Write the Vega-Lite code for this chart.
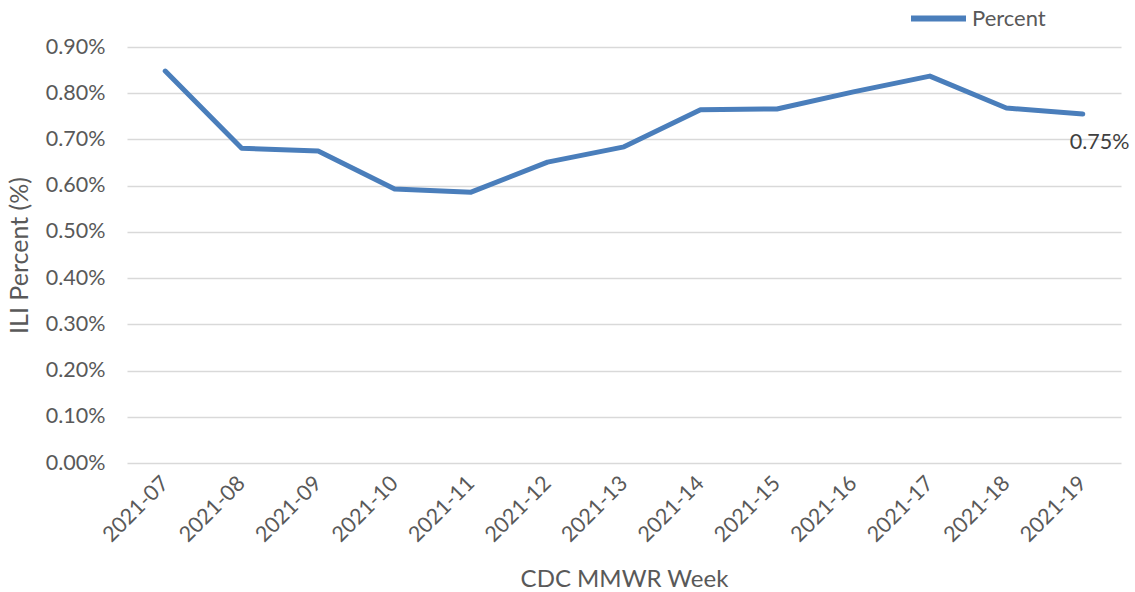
{
  "$schema": "https://vega.github.io/schema/vega-lite/v6.json",
  "width": 994,
  "height": 416,
  "autosize": {"type": "none"},
  "padding": {"left": 127, "top": 47, "right": 14, "bottom": 129},
  "background": "white",
  "config": {
    "view": {"stroke": null},
    "font": "Lato",
    "axis": {"labelColor": "#595959", "titleColor": "#595959", "labelFont": "Lato", "titleFont": "Lato", "labelFontSize": 21.5, "titleFontSize": 24, "titleFontWeight": "normal"},
    "legend": {"labelColor": "#595959", "labelFont": "Lato", "labelFontSize": 22}
  },
  "data": {
    "values": [
      {"week": "2021-07", "pct": 0.848, "series": "Percent"},
      {"week": "2021-08", "pct": 0.681, "series": "Percent"},
      {"week": "2021-09", "pct": 0.675, "series": "Percent"},
      {"week": "2021-10", "pct": 0.593, "series": "Percent"},
      {"week": "2021-11", "pct": 0.586, "series": "Percent"},
      {"week": "2021-12", "pct": 0.651, "series": "Percent"},
      {"week": "2021-13", "pct": 0.684, "series": "Percent"},
      {"week": "2021-14", "pct": 0.764, "series": "Percent"},
      {"week": "2021-15", "pct": 0.766, "series": "Percent"},
      {"week": "2021-16", "pct": 0.803, "series": "Percent"},
      {"week": "2021-17", "pct": 0.837, "series": "Percent"},
      {"week": "2021-18", "pct": 0.768, "series": "Percent"},
      {"week": "2021-19", "pct": 0.755, "series": "Percent"}
    ]
  },
  "layer": [
    {
      "mark": {"type": "line", "strokeWidth": 5, "strokeCap": "round", "strokeJoin": "round"},
      "encoding": {
        "x": {
          "field": "week", "type": "ordinal",
          "scale": {"type": "point", "padding": 0.5},
          "axis": {"title": "CDC MMWR Week", "titlePadding": 22, "labelAngle": -45, "labelAlign": "right", "labelBaseline": "middle", "labelPadding": 17, "ticks": false, "domain": false, "grid": false, "labelOverlap": false}
        },
        "y": {
          "field": "pct", "type": "quantitative",
          "scale": {"domain": [0, 0.9], "nice": false},
          "axis": {"title": "ILI Percent (%)", "titleFontSize": 25, "titlePadding": 13, "values": [0,0.1,0.2,0.3,0.4,0.5,0.6,0.7,0.8,0.9], "labelExpr": "format(datum.value, '.2f') + '%'", "ticks": false, "domain": false, "gridColor": "#d9d9d9", "gridWidth": 1.5, "labelPadding": 22}
        },
        "color": {
          "field": "series", "type": "nominal",
          "scale": {"range": ["#4a7ebb"]},
          "legend": {"title": null, "orient": "none", "legendX": 781, "legendY": -59, "symbolType": "stroke", "symbolSize": 3025, "symbolStrokeWidth": 6, "labelOffset": 3}
        }
      }
    },
    {
      "transform": [{"filter": "datum.week == '2021-19'"}],
      "mark": {"type": "text", "align": "left", "baseline": "top", "dx": -13, "dy": 18, "fontSize": 21.5, "color": "#404040", "font": "Lato"},
      "encoding": {
        "x": {"field": "week", "type": "ordinal"},
        "y": {"field": "pct", "type": "quantitative"},
        "text": {"value": "0.75%"}
      }
    }
  ]
}
